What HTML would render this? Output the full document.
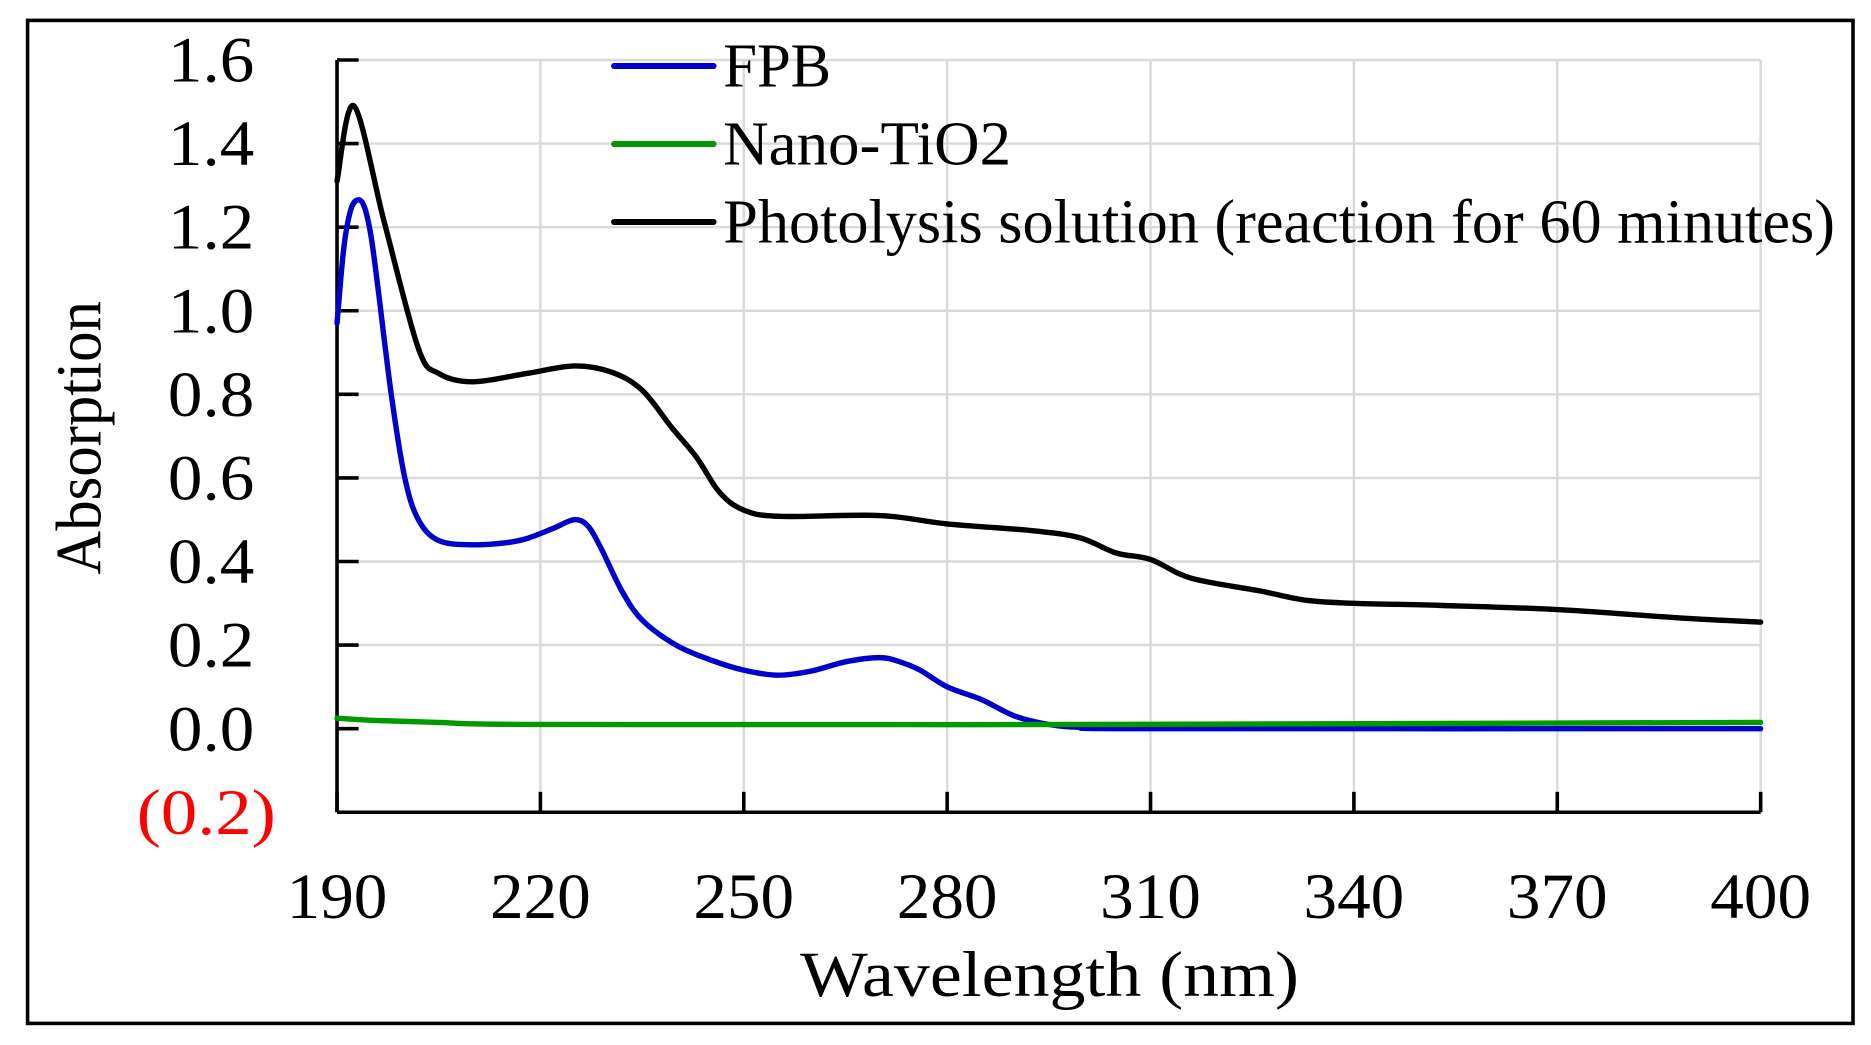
<!DOCTYPE html>
<html><head><meta charset="utf-8"><style>
html,body{margin:0;padding:0;background:#fff;}
svg{display:block;}
text{font-family:"Liberation Serif",serif;fill:#000;}
</style></head><body>
<svg id="chart" width="1871" height="1045" viewBox="0 0 1560 871" preserveAspectRatio="none" xmlns="http://www.w3.org/2000/svg">
<rect x="23" y="17" width="1522" height="836" fill="#fff" stroke="#000" stroke-width="3"/>
<g id="grid"></g>
<g id="axes"></g>
<g id="series"></g>
<g id="legend"></g>
<text x="875" y="830" font-size="54" text-anchor="middle" textLength="416" lengthAdjust="spacingAndGlyphs">Wavelength  (nm)</text>
<text transform="translate(84,365) rotate(-90)" font-size="54" text-anchor="middle" textLength="228" lengthAdjust="spacingAndGlyphs">Absorption</text>
</svg>
<script>
const xTicks = [190,220,250,280,310,340,370,400];
const yTicks = [-0.2,0,0.2,0.4,0.6,0.8,1.0,1.2,1.4,1.6];
const yTickLabels = ["(0.2)","0.0","0.2","0.4","0.6","0.8","1.0","1.2","1.4","1.6"];
const seriesNames = ["FPB","Nano-TiO2","Photolysis solution (reaction for 60 minutes)"];
const fpbX = [190,191,192,193,194,195,196,198,200,202,205,210,215,218,222,225,227,229,232,235,240,245,250,255,260,265,270,273,276,280,285,290,295,300,310,400];
const fpbY = [0.97,1.15,1.24,1.265,1.25,1.18,1.06,0.8,0.6,0.5,0.45,0.44,0.445,0.455,0.48,0.5,0.485,0.43,0.33,0.26,0.2,0.165,0.14,0.128,0.138,0.16,0.17,0.16,0.14,0.1,0.07,0.03,0.01,0.003,0,0];
const tioX = [190,195,205,220,300,400];
const tioY = [0.025,0.02,0.015,0.01,0.01,0.015];
const photoX = [190,192.5,197,202,205,210,218,225,230.5,235,239.4,243,246.4,250,255.3,270,280,292.4,299.5,305,310,316,326,333,340,352.6,370,388,400];
const photoY = [1.31,1.49,1.21,0.91,0.85,0.83,0.85,0.868,0.853,0.81,0.72,0.65,0.566,0.523,0.508,0.51,0.49,0.474,0.457,0.42,0.405,0.36,0.33,0.307,0.3,0.295,0.285,0.265,0.255];

const NS="http://www.w3.org/2000/svg";
const X0=281,X1=1468,Y0=677,Y1=50;
function sx(w){return X0+(w-190)/(400-190)*(X1-X0);}
function sy(v){return Y0-(v+0.2)/1.8*(Y0-Y1);}
function mk(tag,attrs,parent){const e=document.createElementNS(NS,tag);for(const k in attrs)e.setAttribute(k,attrs[k]);parent.appendChild(e);return e;}
const grid=document.getElementById('grid'),axes=document.getElementById('axes'),series=document.getElementById('series'),legend=document.getElementById('legend');

xTicks.forEach((t,i)=>{
  if(i>0){const g=mk('line',{x1:sx(t),x2:sx(t),y1:Y1,y2:Y0,stroke:'#d9d9d9','stroke-width':2},grid);
  
  }
  const tk=mk('line',{x1:sx(t),x2:sx(t),y1:Y0,y2:Y0-17,stroke:'#000','stroke-width':3},axes);
  
  
  const lb=mk('text',{x:sx(t),y:765,'font-size':54,'text-anchor':'middle',textLength:84,lengthAdjust:'spacingAndGlyphs'},axes);
  lb.textContent=t;
  
  
});
yTicks.forEach((t,i)=>{
  if(i>1){const g=mk('line',{x1:X0,x2:X1,y1:sy(t),y2:sy(t),stroke:'#d9d9d9','stroke-width':2},grid);
  
  }
  const tk=mk('line',{x1:X0,x2:X0+18,y1:sy(t),y2:sy(t),stroke:'#000','stroke-width':3},axes);
  
  
  const red=i===0;
  const lb=mk('text',{x:red?230:212,y:sy(t)+18,'font-size':54,'text-anchor':'end',textLength:red?116:72,lengthAdjust:'spacingAndGlyphs'},axes);
  if(red) lb.style.fill='#ff0000';
  lb.textContent=yTickLabels[i];
  
  
});
const ya=mk('line',{x1:X0,x2:X0,y1:Y1,y2:Y0,stroke:'#000','stroke-width':3},axes);


const xa=mk('line',{x1:X0,x2:X1,y1:Y0,y2:Y0,stroke:'#000','stroke-width':3},axes);



function smoothPath(xs,ys){
  const p=xs.map((x,i)=>[sx(x),sy(ys[i])]);
  let d='M'+p[0][0]+','+p[0][1];
  for(let i=0;i<p.length-1;i++){
    const p0=p[Math.max(0,i-1)],p1=p[i],p2=p[i+1],p3=p[Math.min(p.length-1,i+2)];
    const c1=[p1[0]+(p2[0]-p0[0])/6,p1[1]+(p2[1]-p0[1])/6];
    const c2=[p2[0]-(p3[0]-p1[0])/6,p2[1]-(p3[1]-p1[1])/6];
    d+=' C'+c1[0]+','+c1[1]+' '+c2[0]+','+c2[1]+' '+p2[0]+','+p2[1];
  }
  return d;
}
const colors=['#0000cc','#009900','#000000'];
const data=[[fpbX,fpbY],[tioX,tioY],[photoX,photoY]];
const lineNames=['fpb-line','nano-tio2-line','photolysis-line'];
[2,0,1].forEach(i=>{
  const path=mk('path',{d:smoothPath(data[i][0],data[i][1]),fill:'none',stroke:colors[i],'stroke-width':4.5,'stroke-linejoin':'round','stroke-linecap':'round'},series);
  
  
});
const legW=[90,240,927];
seriesNames.forEach((n,i)=>{
  const y=55+i*65;
  const l=mk('line',{x1:512,x2:595,y1:y,y2:y,stroke:colors[i],'stroke-width':5,'stroke-linecap':'round'},legend);
  
  
  const t=mk('text',{x:603,y:y+17,'font-size':52,textLength:legW[i],lengthAdjust:'spacingAndGlyphs'},legend);
  t.textContent=n;
  
  
});
</script>
</body></html>
